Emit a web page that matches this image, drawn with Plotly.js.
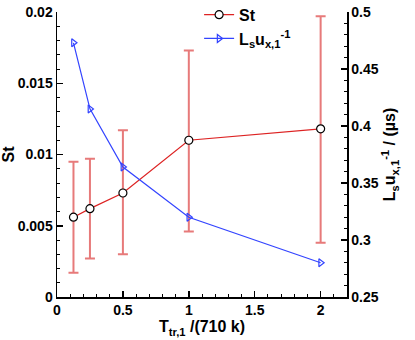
<!DOCTYPE html>
<html>
<head>
<meta charset="utf-8">
<script src="https://cdn.plot.ly/plotly-3.0.1.min.js"></script>
<style>
  html, body { margin: 0; padding: 0; background: #fff; }
  #myPlot { width: 415px; height: 340px; }
</style>
</head>
<body>
<div id="myPlot"></div>
<script>
const temps = [0.125, 0.25, 0.5, 1, 2];
const st = [0.0056, 0.0062, 0.0073, 0.011, 0.0118];
const stHigh = [0.0095, 0.0097, 0.0117, 0.0173, 0.0197];
const stLow = [0.0017, 0.0027, 0.0030, 0.0046, 0.0038];
const lsu = [0.473, 0.415, 0.364, 0.320, 0.280];

function updatePlot() {
    const fam = 'Liberation Sans, Arial, sans-serif';
    const font = {family: fam, size: 14, color: '#000', weight: 'bold'};
    const traceSt = {
        x: temps,
        y: st,
        type: 'scatter',
        mode: 'lines+markers',
        name: '<b>St</b>',
        line: {color: '#dd2222', width: 1.2},
        marker: {symbol: 'circle', size: 8, color: '#fff', line: {color: '#000', width: 1.2}},
        error_y: {
            type: 'data',
            symmetric: false,
            array: stHigh.map((h, i) => h - st[i]),
            arrayminus: stLow.map((l, i) => st[i] - l),
            color: '#e77a7a',
            thickness: 2,
            width: 5
        },
    };
    const traceL = {
        x: temps,
        y: lsu,
        yaxis: 'y2',
        type: 'scatter',
        mode: 'lines+markers',
        name: '<b>L<sub>s</sub>u<sub>x,1</sub><sup>-1</sup></b>',
        line: {color: '#3344ff', width: 1.2},
        marker: {symbol: 'triangle-right-open', size: 7, color: '#3344ff', line: {width: 1.2}},
    };
    const axisBase = {
        showgrid: false,
        zeroline: false,
        showline: true,
        linecolor: '#000',
        linewidth: 1.5,
        ticks: 'inside',
        ticklen: 6,
        tickwidth: 1.5,
        tickcolor: '#000',
        tickfont: font,
        automargin: false,
    };
    const titleFont = {family: fam, size: 16, color: '#000'};
    const layout = {
        width: 415,
        height: 340,
        margin: {l: 57, r: 68, t: 12, b: 43, autoexpand: false},
        paper_bgcolor: '#fff',
        plot_bgcolor: '#fff',
        font: font,
        showlegend: true,
        legend: {
            x: 0.49, y: 1.05, xanchor: 'left', yanchor: 'top',
            bgcolor: 'rgba(0,0,0,0)',
            font: {family: fam, size: 16, color: '#000'},
            tracegroupgap: 0,
        },
        xaxis: Object.assign({}, axisBase, {
            range: [0, 2.2],
            dtick: 0.5,
            minor: {ticks: 'inside', ticklen: 3, dtick: 0.1, tickcolor: '#000', tickwidth: 1},
            title: {text: '<b>T<sub>tr,1</sub> /(710 k)</b>', font: titleFont, standoff: 2},
        }),
        yaxis: Object.assign({}, axisBase, {
            range: [0, 0.02],
            dtick: 0.005,
            minor: {ticks: 'inside', ticklen: 3, dtick: 0.001, tickcolor: '#000', tickwidth: 1},
            title: {text: '<b>St</b>', font: titleFont, standoff: 2},
        }),
        yaxis2: Object.assign({}, axisBase, {
            overlaying: 'y',
            side: 'right',
            range: [0.25, 0.5],
            dtick: 0.05,
            minor: {ticks: 'inside', ticklen: 3, dtick: 0.01, tickcolor: '#000', tickwidth: 1},
            title: {text: '<b>L<sub>s</sub>u<sub>x,1</sub><sup>-1</sup> / (\u00b5s)</b>', font: titleFont, standoff: 2},
        }),
    };
    Plotly.newPlot('myPlot', [traceSt, traceL], layout, {displayModeBar: false, staticPlot: true});
}

updatePlot();
</script>
</body>
</html>
